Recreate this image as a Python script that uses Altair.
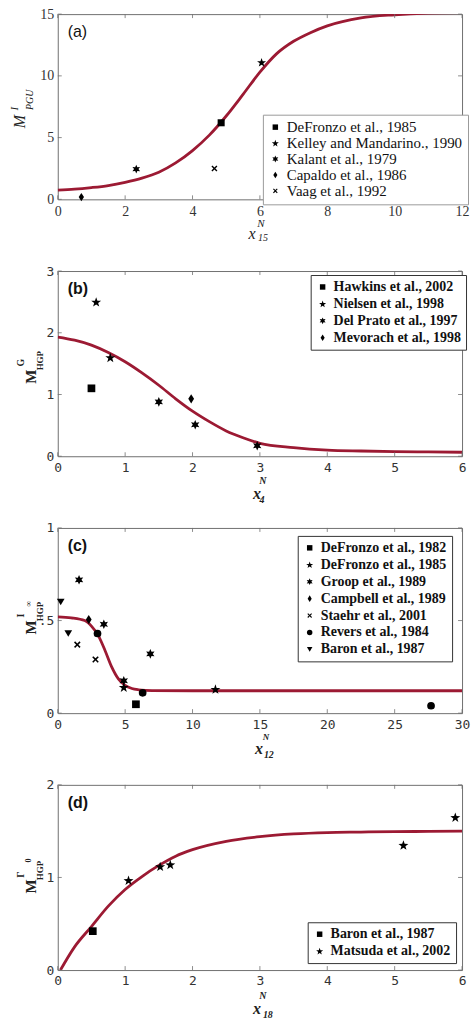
import altair as alt
import pandas as pd

# ---------------- data ----------------
# panel (a)
a_curve_x = [0, 0.5, 1, 1.5, 2, 2.5, 3, 3.5, 4, 4.5, 5, 5.5, 6, 6.5, 7, 7.5, 8, 9, 10, 11, 12]
a_curve_y = [0.75, 0.82, 0.95, 1.12, 1.38, 1.72, 2.2, 2.95, 3.95, 5.2, 6.75, 8.5, 10.3, 11.8, 12.8, 13.5, 14.05, 14.7, 14.95, 15.08, 15.12]
a_names = ["DeFronzo et al., 1985", "Kelley and Mandarino., 1990", "Kalant et al., 1979",
           "Capaldo et al., 1986", "Vaag et al., 1992"]
a_pt_name = ["DeFronzo et al., 1985", "Kelley and Mandarino., 1990", "Kalant et al., 1979",
             "Capaldo et al., 1986", "Vaag et al., 1992"]
a_pt_x = [4.85, 6.05, 2.33, 0.7, 4.65]
a_pt_y = [6.2, 11.1, 2.45, 0.18, 2.5]
a_xticks = [0, 2, 4, 6, 8, 10, 12]
a_yticks = [0, 5, 10, 15]

# panel (b)
b_curve_x = [0, 0.25, 0.5, 0.75, 1, 1.25, 1.5, 1.75, 2, 2.25, 2.5, 2.75, 3, 3.5, 4, 4.5, 5, 5.5, 6]
b_curve_y = [1.93, 1.88, 1.80, 1.68, 1.53, 1.35, 1.15, 0.93, 0.73, 0.56, 0.41, 0.30, 0.21, 0.14, 0.10, 0.085, 0.075, 0.07, 0.065]
b_names = ["Hawkins et al., 2002", "Nielsen et al., 1998", "Del Prato et al., 1997", "Mevorach et al., 1998"]
b_pt_name = ["Hawkins et al., 2002", "Nielsen et al., 1998", "Nielsen et al., 1998",
             "Del Prato et al., 1997", "Del Prato et al., 1997", "Del Prato et al., 1997",
             "Mevorach et al., 1998"]
b_pt_x = [0.5, 0.57, 0.78, 1.5, 2.04, 2.96, 1.98]
b_pt_y = [1.1, 2.5, 1.6, 0.88, 0.51, 0.17, 0.93]
b_xticks = [0, 1, 2, 3, 4, 5, 6]
b_yticks = [0, 1, 2, 3]

# panel (c)
c_curve_x = [0, 1, 2, 2.5, 3, 3.5, 4, 4.5, 5, 5.5, 6, 6.5, 7, 10, 15, 20, 25, 30]
c_curve_y = [0.52, 0.515, 0.50, 0.47, 0.42, 0.34, 0.25, 0.185, 0.15, 0.133, 0.126, 0.123, 0.122, 0.121, 0.121, 0.121, 0.121, 0.121]
c_names = ["DeFronzo et al., 1982", "DeFronzo et al., 1985", "Groop et al., 1989", "Campbell et al., 1989",
           "Staehr et al., 2001", "Revers et al., 1984", "Baron et al., 1987"]
c_pt_name = ["DeFronzo et al., 1982",
             "DeFronzo et al., 1985", "DeFronzo et al., 1985",
             "Groop et al., 1989", "Groop et al., 1989", "Groop et al., 1989", "Groop et al., 1989",
             "Campbell et al., 1989",
             "Staehr et al., 2001", "Staehr et al., 2001",
             "Revers et al., 1984", "Revers et al., 1984", "Revers et al., 1984",
             "Baron et al., 1987", "Baron et al., 1987"]
c_pt_x = [5.8, 4.9, 11.7, 1.58, 3.42, 6.87, 4.9, 2.3, 1.45, 2.8, 2.95, 6.3, 27.7, 0.22, 0.78]
c_pt_y = [0.048, 0.14, 0.13, 0.72, 0.48, 0.32, 0.175, 0.505, 0.37, 0.29, 0.43, 0.11, 0.04, 0.60, 0.43]
c_xticks = [0, 5, 10, 15, 20, 25, 30]
c_yticks = [0, 0.5, 1]

# panel (d)
d_curve_x = [0.04, 0.25, 0.5, 0.75, 1, 1.25, 1.5, 1.75, 2, 2.5, 3, 3.5, 4, 4.5, 5, 5.5, 6]
d_curve_y = [0, 0.25, 0.47, 0.69, 0.87, 1.01, 1.13, 1.23, 1.30, 1.39, 1.44, 1.47, 1.485, 1.49, 1.495, 1.497, 1.50]
d_names = ["Baron et al., 1987", "Matsuda et al., 2002"]
d_pt_name = ["Baron et al., 1987", "Matsuda et al., 2002", "Matsuda et al., 2002",
             "Matsuda et al., 2002", "Matsuda et al., 2002", "Matsuda et al., 2002"]
d_pt_x = [0.52, 1.05, 1.52, 1.67, 5.13, 5.9]
d_pt_y = [0.42, 0.97, 1.12, 1.14, 1.35, 1.65]
d_xticks = [0, 1, 2, 3, 4, 5, 6]
d_yticks = [0, 1, 2]

# ---------------- styling ----------------
W, H = 406, 186
LINE = "#9c1a33"
BOX = "#707070"

SQUARE = "square"
STAR = ("M0,-1.22L0.317,-0.307L1.284,-0.287L0.513,0.297L0.794,1.222L0,0.67L-0.794,1.222"
        "L-0.513,0.297L-1.284,-0.287L-0.317,-0.307Z")
HEX = ("M0,-1.25L0.3125,-0.541L1.0825,-0.625L0.625,0L1.0825,0.625L0.3125,0.541L0,1.25"
       "L-0.3125,0.541L-1.0825,0.625L-0.625,0L-1.0825,-0.625L-0.3125,-0.541Z")
DIAMOND = "M0,-1.2L0.75,0L0,1.2L-0.75,0Z"
XMARK = ("M-0.85,-0.57L-0.57,-0.85L0,-0.28L0.57,-0.85L0.85,-0.57L0.28,0L0.85,0.57L0.57,0.85"
         "L0,0.28L-0.57,0.85L-0.85,0.57L-0.28,0Z")
CIRCLE = "circle"
TRI = "triangle-down"


def txt(s, x, y, size, font="Liberation Serif", style="normal", weight="normal",
        angle=0, align="center", baseline="middle", color="#222"):
    return alt.Chart(pd.DataFrame({"t": [s]})).mark_text(
        font=font, fontSize=size, fontStyle=style, fontWeight=weight, angle=angle,
        align=align, baseline=baseline, color=color
    ).encode(text="t:N", x=alt.value(x), y=alt.value(y))


def panel(cx, cy, px, py, pname, names, shapes, xdom, ydom, xticks, yticks,
          tick_font, tick_size, legend, label, label_bold, ytitle, xtitle,
          ylabel_expr=None, msize=60):
    xs = alt.Scale(domain=xdom, nice=False, zero=False)
    ys = alt.Scale(domain=ydom, nice=False, zero=False)
    ax_kw = dict(title=None, ticks=False, tickSize=0, domain=False, grid=False, format="~g",
                 labelFont=tick_font, labelFontSize=tick_size, labelColor="#333")
    ax_x = alt.Axis(values=xticks, labelPadding=5, labelFlush=False, **ax_kw)
    if ylabel_expr:
        ax_y = alt.Axis(values=yticks, labelPadding=4, labelExpr=ylabel_expr, **ax_kw)
    else:
        ax_y = alt.Axis(values=yticks, labelPadding=4, **ax_kw)
    X = lambda: alt.X("x:Q", scale=xs, axis=ax_x)
    Y = lambda: alt.Y("y:Q", scale=ys, axis=ax_y)

    curve = alt.Chart(pd.DataFrame({"x": cx, "y": cy})).mark_line(
        color=LINE, strokeWidth=2.8, interpolate="monotone", clip=True
    ).encode(x=X(), y=Y())

    pts = alt.Chart(pd.DataFrame({"x": px, "y": py, "study": pname})).mark_point(
        filled=True, color="black", opacity=1, size=msize
    ).encode(
        x=X(), y=Y(),
        shape=alt.Shape("study:N", scale=alt.Scale(domain=names, range=shapes), legend=legend),
    )

    xt = pd.DataFrame({"x": xticks})
    yt = pd.DataFrame({"y": yticks})
    tk = dict(color=BOX, strokeWidth=0.8)
    t_bot = alt.Chart(xt).mark_rule(**tk).encode(x=X(), y=alt.value(H), y2=alt.value(H - 4))
    t_top = alt.Chart(xt).mark_rule(**tk).encode(x=X(), y=alt.value(0), y2=alt.value(4))
    t_lft = alt.Chart(yt).mark_rule(**tk).encode(y=Y(), x=alt.value(0), x2=alt.value(4))
    t_rgt = alt.Chart(yt).mark_rule(**tk).encode(y=Y(), x=alt.value(W), x2=alt.value(W - 4))

    lab = txt(label, 10, 23, 16, font="Liberation Sans",
              weight="bold" if label_bold else "normal", align="left", baseline="alphabetic",
              color="#111")

    layers = [curve, t_bot, t_top, t_lft, t_rgt, pts, lab]
    layers += [txt(*p[:4], **p[4]) for p in ytitle]
    layers += [txt(*p[:4], **p[4]) for p in xtitle]
    return alt.layer(*layers).properties(width=W, height=H)


def leg(x, y, font_size, weight, row_pad, stroke):
    return alt.Legend(
        title=None, orient="none", legendX=x, legendY=y, padding=5,
        strokeColor=stroke, fillColor="white", labelFont="Liberation Serif",
        labelFontSize=font_size, labelFontWeight=weight, labelColor="#111",
        labelLimit=400, symbolSize=30, symbolFillColor="black", symbolStrokeWidth=0,
        rowPadding=row_pad, labelOffset=4,
    )


IT = dict(style="italic")
BI = dict(style="italic", weight="bold")
RB = dict(angle=270, weight="bold")

pa = panel(
    a_curve_x, a_curve_y, a_pt_x, a_pt_y, a_pt_name, a_names, [SQUARE, STAR, HEX, DIAMOND, XMARK],
    [0, 12], [0, 15], a_xticks, a_yticks, "Liberation Serif", 14,
    leg(206, 101, 15, "normal", 0, "#9a9a9a"), "(a)", False,
    ytitle=[("M", -38, 108, 16, dict(angle=270, style="italic")),
            ("I", -43, 95, 11, dict(angle=270, style="italic")),
            ("PGU", -28, 86, 10, dict(angle=270, style="italic"))],
    xtitle=[("x", 195, 221, 16, IT), ("N", 204, 211, 11, IT), ("15", 206, 225, 10, IT)],
    msize=50,
)

pb = panel(
    b_curve_x, b_curve_y, b_pt_x, b_pt_y, b_pt_name, b_names, [SQUARE, STAR, HEX, DIAMOND],
    [0, 6], [0, 3], b_xticks, b_yticks, "DejaVu Sans Mono", 13,
    leg(254, 4, 14, "bold", 3, "#333"), "(b)", True,
    ytitle=[("M", -27, 106, 15, RB),
            ("G", -37, 92, 10, RB),
            ("HGP", -18, 90, 9, RB)],
    xtitle=[("x", 200, 224, 16, BI), ("N", 206, 211, 10, BI), ("4", 205, 230, 10, BI)],
)

pc = panel(
    c_curve_x, c_curve_y, c_pt_x, c_pt_y, c_pt_name, c_names,
    [SQUARE, STAR, HEX, DIAMOND, XMARK, CIRCLE, TRI],
    [0, 30], [0, 1], c_xticks, c_yticks, "DejaVu Sans Mono", 13,
    leg(241, 8, 14, "bold", 3, "#333"), "(c)", True,
    ytitle=[("M", -27, 100, 15, RB),
            ("I", -37, 88, 10, RB),
            ("HGP", -18, 84, 9, RB),
            ("∞", -29, 76, 8, RB)],
    xtitle=[("x", 202, 222, 16, BI), ("N", 209, 210, 9, BI), ("12", 212, 228, 10, BI)],
    ylabel_expr="datum.value == 0.5 ? '.5' : datum.label",
)

pd_ = panel(
    d_curve_x, d_curve_y, d_pt_x, d_pt_y, d_pt_name, d_names, [SQUARE, STAR],
    [0, 6], [0, 2], d_xticks, d_yticks, "DejaVu Sans Mono", 13,
    leg(251, 138, 14, "bold", 3, "#333"), "(d)", True,
    ytitle=[("M", -27, 102, 15, RB),
            ("Γ", -37, 90, 10, RB),
            ("HGP", -18, 86, 9, RB),
            ("0", -29, 76, 8, RB)],
    xtitle=[("x", 200, 225, 16, BI), ("N", 206, 212, 10, BI), ("18", 211, 231, 10, BI)],
)

chart = alt.vconcat(pa, pb, pc, pd_, spacing=72, bounds="flush").resolve_scale(
    shape="independent"
).resolve_legend(shape="independent").properties(
    padding={"left": 8, "top": 4, "right": 0, "bottom": 5},
    background="white",
).configure_view(stroke=BOX, strokeWidth=1)

chart.save("out.html", embed_options={"renderer": "svg", "actions": False})
